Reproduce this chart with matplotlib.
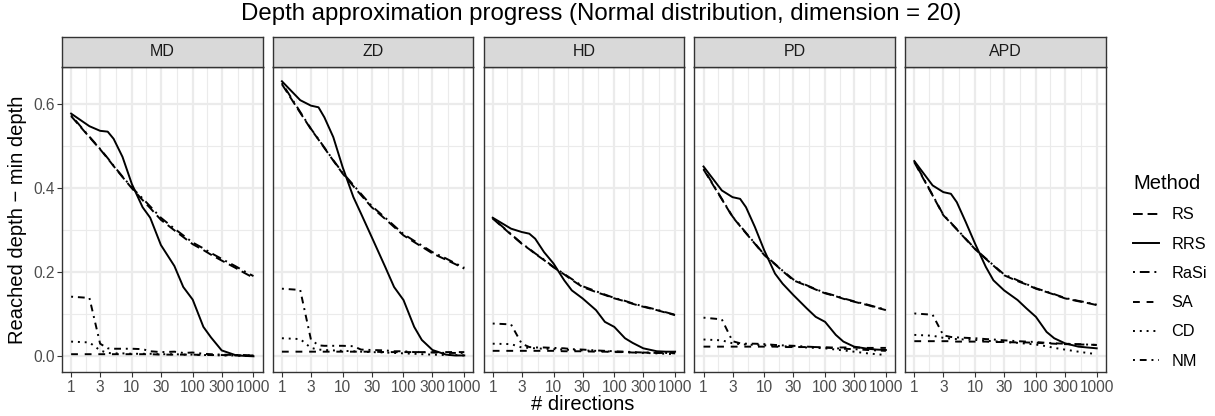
import matplotlib
matplotlib.use('Agg')
import matplotlib.pyplot as plt
from matplotlib.lines import Line2D
import numpy as np

plt.rcParams['font.family'] = ['Liberation Sans', 'DejaVu Sans']

# number of directions (x)
n_dir = [1, 2, 3, 4, 5, 7, 10, 15, 20, 30, 50, 70, 100, 150, 200, 300, 500, 700, 1000]

panels = ['MD', 'ZD', 'HD', 'PD', 'APD']

# reached depth - min depth, one row per panel (MD, ZD, HD, PD, APD)
rs = [
    [0.572, 0.522, 0.493, 0.471, 0.453, 0.427, 0.400, 0.372, 0.353, 0.325, 0.300, 0.284, 0.267, 0.253, 0.242, 0.228, 0.211, 0.199, 0.187],
    [0.648, 0.580, 0.541, 0.516, 0.496, 0.466, 0.435, 0.405, 0.384, 0.355, 0.327, 0.308, 0.288, 0.272, 0.261, 0.245, 0.230, 0.220, 0.209],
    [0.328, 0.290, 0.268, 0.255, 0.244, 0.229, 0.212, 0.195, 0.182, 0.165, 0.153, 0.146, 0.138, 0.131, 0.125, 0.118, 0.110, 0.104, 0.098],
    [0.445, 0.374, 0.332, 0.310, 0.293, 0.268, 0.241, 0.219, 0.203, 0.181, 0.168, 0.159, 0.150, 0.143, 0.137, 0.130, 0.122, 0.116, 0.110],
    [0.462, 0.383, 0.336, 0.317, 0.302, 0.279, 0.255, 0.232, 0.216, 0.193, 0.179, 0.171, 0.161, 0.153, 0.147, 0.138, 0.131, 0.127, 0.122],
]
rrs = [
    [0.578, 0.548, 0.537, 0.535, 0.518, 0.475, 0.410, 0.355, 0.330, 0.265, 0.215, 0.165, 0.135, 0.070, 0.045, 0.014, 0.003, 0.001, 0.000],
    [0.655, 0.610, 0.597, 0.593, 0.569, 0.522, 0.450, 0.379, 0.340, 0.284, 0.213, 0.165, 0.134, 0.070, 0.039, 0.015, 0.004, 0.002, 0.002],
    [0.330, 0.304, 0.296, 0.292, 0.280, 0.248, 0.221, 0.181, 0.157, 0.138, 0.110, 0.082, 0.070, 0.043, 0.032, 0.019, 0.012, 0.011, 0.011],
    [0.452, 0.395, 0.379, 0.375, 0.355, 0.308, 0.252, 0.197, 0.173, 0.146, 0.114, 0.094, 0.082, 0.051, 0.035, 0.023, 0.018, 0.016, 0.015],
    [0.465, 0.407, 0.391, 0.387, 0.367, 0.320, 0.268, 0.213, 0.181, 0.157, 0.134, 0.114, 0.094, 0.058, 0.043, 0.031, 0.023, 0.021, 0.019],
]
rasi = [
    [0.574, 0.523, 0.494, 0.472, 0.454, 0.428, 0.402, 0.376, 0.357, 0.330, 0.304, 0.288, 0.271, 0.257, 0.246, 0.232, 0.215, 0.203, 0.191],
    [0.651, 0.582, 0.542, 0.517, 0.497, 0.467, 0.437, 0.408, 0.387, 0.358, 0.330, 0.311, 0.291, 0.275, 0.264, 0.248, 0.233, 0.222, 0.211],
    [0.329, 0.291, 0.269, 0.256, 0.245, 0.230, 0.213, 0.196, 0.184, 0.167, 0.155, 0.147, 0.139, 0.132, 0.126, 0.119, 0.111, 0.105, 0.099],
    [0.447, 0.375, 0.333, 0.311, 0.294, 0.269, 0.242, 0.220, 0.204, 0.183, 0.169, 0.160, 0.151, 0.144, 0.138, 0.131, 0.123, 0.117, 0.111],
    [0.464, 0.384, 0.337, 0.318, 0.303, 0.280, 0.256, 0.233, 0.217, 0.195, 0.181, 0.172, 0.162, 0.154, 0.148, 0.139, 0.132, 0.128, 0.123],
]
sa = [
    [0.005, 0.005, 0.005, 0.005, 0.005, 0.005, 0.005, 0.005, 0.005, 0.004, 0.004, 0.004, 0.004, 0.003, 0.003, 0.003, 0.002, 0.002, 0.002],
    [0.011, 0.011, 0.011, 0.011, 0.011, 0.011, 0.011, 0.011, 0.011, 0.011, 0.010, 0.010, 0.010, 0.010, 0.010, 0.010, 0.010, 0.010, 0.010],
    [0.013, 0.013, 0.013, 0.013, 0.013, 0.013, 0.013, 0.012, 0.012, 0.012, 0.011, 0.011, 0.010, 0.010, 0.009, 0.009, 0.008, 0.008, 0.008],
    [0.023, 0.023, 0.023, 0.023, 0.023, 0.023, 0.023, 0.023, 0.022, 0.022, 0.022, 0.022, 0.021, 0.021, 0.021, 0.021, 0.020, 0.020, 0.020],
    [0.036, 0.036, 0.036, 0.036, 0.035, 0.035, 0.035, 0.035, 0.034, 0.034, 0.033, 0.033, 0.032, 0.031, 0.030, 0.029, 0.028, 0.028, 0.027],
]
cd = [
    [0.035, 0.033, 0.014, 0.008, 0.007, 0.007, 0.006, 0.006, 0.006, 0.005, 0.005, 0.004, 0.004, 0.003, 0.003, 0.002, 0.002, 0.001, 0.001],
    [0.043, 0.041, 0.020, 0.016, 0.015, 0.014, 0.013, 0.012, 0.011, 0.010, 0.009, 0.008, 0.007, 0.006, 0.005, 0.004, 0.003, 0.003, 0.002],
    [0.030, 0.029, 0.021, 0.020, 0.019, 0.018, 0.017, 0.016, 0.015, 0.014, 0.013, 0.012, 0.011, 0.010, 0.009, 0.008, 0.007, 0.006, 0.005],
    [0.040, 0.038, 0.031, 0.029, 0.028, 0.027, 0.026, 0.025, 0.024, 0.023, 0.021, 0.020, 0.019, 0.016, 0.014, 0.011, 0.007, 0.005, 0.003],
    [0.051, 0.049, 0.044, 0.042, 0.041, 0.040, 0.039, 0.037, 0.036, 0.034, 0.032, 0.030, 0.028, 0.024, 0.020, 0.016, 0.011, 0.008, 0.005],
]
nm = [
    [0.142, 0.139, 0.030, 0.019, 0.018, 0.018, 0.018, 0.017, 0.012, 0.010, 0.011, 0.008, 0.009, 0.006, 0.005, 0.004, 0.003, 0.003, 0.002],
    [0.161, 0.158, 0.040, 0.026, 0.025, 0.025, 0.025, 0.024, 0.016, 0.015, 0.014, 0.012, 0.012, 0.010, 0.010, 0.009, 0.008, 0.008, 0.008],
    [0.078, 0.076, 0.030, 0.022, 0.021, 0.021, 0.020, 0.019, 0.017, 0.016, 0.014, 0.013, 0.012, 0.011, 0.010, 0.009, 0.008, 0.008, 0.007],
    [0.092, 0.088, 0.036, 0.031, 0.030, 0.030, 0.029, 0.027, 0.026, 0.025, 0.023, 0.022, 0.021, 0.019, 0.018, 0.017, 0.015, 0.014, 0.013],
    [0.102, 0.099, 0.050, 0.046, 0.045, 0.044, 0.043, 0.041, 0.040, 0.038, 0.036, 0.035, 0.034, 0.032, 0.031, 0.030, 0.029, 0.028, 0.027],
]

methods = ['RS', 'RRS', 'RaSi', 'SA', 'CD', 'NM']
method_data = [rs, rrs, rasi, sa, cd, nm]
linestyles = [(0, (5, 2.5)), '-', (0, (1, 2.5, 5, 2.5)), (0, (3.5, 3.5)), (0, (1, 2.5)), (0, (1, 2.5, 3.5, 2.5))]

x_breaks = [1, 3, 10, 30, 100, 300, 1000]
x_minor = [np.sqrt(a * b) for a, b in zip(x_breaks[:-1], x_breaks[1:])]

W, H = 1215, 416
fig = plt.figure(figsize=(W / 100, H / 100), dpi=100)

grey20 = '#333333'
grid_col = '#EBEBEB'

for i, name in enumerate(panels):
    left = 62 + i * 210.8
    ax = fig.add_axes([left / W, 44 / H, 200.6 / W, 305 / H])
    ax.set_xscale('log')
    ax.set_xlim(10 ** -0.15, 10 ** 3.15)
    ax.set_ylim(-0.0374, 0.689)

    # grid lines
    for v in x_minor:
        ax.axvline(v, color=grid_col, lw=0.85, zorder=0)
    for v in [0.1, 0.3, 0.5]:
        ax.axhline(v, color=grid_col, lw=0.85, zorder=0)
    for v in x_breaks:
        ax.axvline(v, color=grid_col, lw=1.6, zorder=0)
    for v in [0.0, 0.2, 0.4, 0.6]:
        ax.axhline(v, color=grid_col, lw=1.6, zorder=0)

    for m, data, ls in zip(methods, method_data, linestyles):
        ax.plot(n_dir, data[i], color='black', lw=1.4, linestyle=ls, label=m, zorder=3)

    ax.set_xticks(x_breaks)
    ax.set_xticklabels([str(b) for b in x_breaks])
    ax.xaxis.set_minor_locator(matplotlib.ticker.NullLocator())
    ax.set_yticks([0.0, 0.2, 0.4, 0.6])
    ax.yaxis.set_minor_locator(matplotlib.ticker.NullLocator())
    ax.tick_params(axis='both', length=3.4, width=0.8, color=grey20, labelsize=11.2,
                   labelcolor='#4D4D4D', pad=2)
    if i == 0:
        ax.set_yticklabels(['0.0', '0.2', '0.4', '0.6'])
    else:
        ax.tick_params(axis='y', left=False, labelleft=False)
    for sp in ax.spines.values():
        sp.set_color(grey20)
        sp.set_linewidth(1.0)

    # facet strip
    sax = fig.add_axes([left / W, (H - 67) / H, 200.6 / W, 30 / H])
    sax.set_facecolor('#D9D9D9')
    sax.set_xticks([])
    sax.set_yticks([])
    for sp in sax.spines.values():
        sp.set_color(grey20)
        sp.set_linewidth(1.0)
    sax.text(0.5, 0.5, name, ha='center', va='center', fontsize=11.5, color='#1A1A1A',
             transform=sax.transAxes)

fig.text(601 / W, 1 - 14 / H, 'Depth approximation progress (Normal distribution, dimension = 20)',
         ha='center', va='center', fontsize=17.3)
fig.text(583 / W, 1 - 404 / H, '# directions', ha='center', va='center', fontsize=14.5)
fig.text(18 / W, 1 - 220 / H, 'Reached depth \u2212 min depth', ha='center', va='center',
         rotation=90, fontsize=14.5)

handles = [Line2D([], [], color='black', lw=1.4, linestyle=ls) for ls in linestyles]
leg = fig.legend(handles, methods, loc='upper left', bbox_to_anchor=(1133 / W, 1 - 174 / H),
                 frameon=False, title='Method', title_fontsize=14.5, fontsize=11.7,
                 handlelength=1.6, handletextpad=0.75, labelspacing=0.88, borderpad=0,
                 borderaxespad=0, alignment='left')

fig.savefig('out.png', dpi=100)
